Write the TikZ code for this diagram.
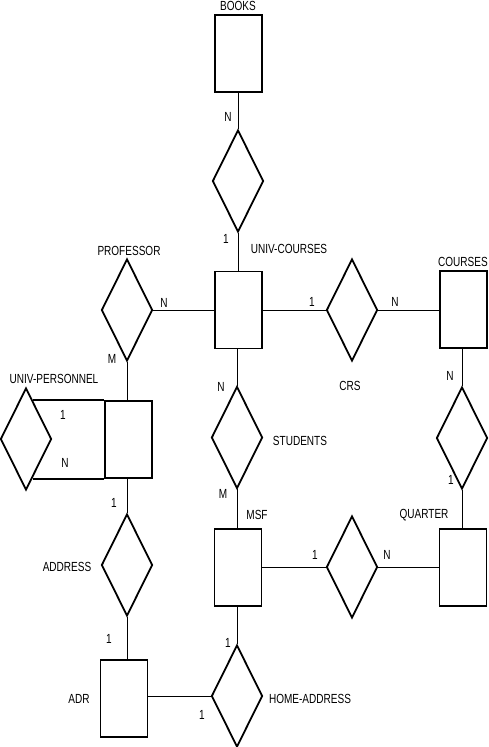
\documentclass[tikz,border=0pt]{standalone}
\usepackage{fontspec}
\setmainfont[FakeStretch=0.76]{Liberation Sans}
\usetikzlibrary{shapes.geometric,calc}
\begin{document}
\begin{tikzpicture}[x=1pt,y=-1pt,
  ent/.style={draw,line width=1.8pt,rectangle,minimum width=47pt,minimum height=77pt,inner sep=0pt},
  rel/.style={draw,line width=1.8pt,diamond,minimum width=51pt,minimum height=102pt,inner sep=0pt},
  conn/.style={line width=0.9pt},
  lbl/.style={font=\fontsize{13.2pt}{15pt}\selectfont,inner sep=0pt}]
\useasboundingbox (0,0) rectangle (489,747);
% entities
\node[ent] (books) at (238.5,53.5) {};
\node[ent] (univ) at (238.5,310) {};
\node[ent] (courses) at (463.5,309.5) {};
\node[ent] (quarter) at (463,567.5) {};
\node[ent] (msf) at (238,567.5) {};
\node[ent] (up) at (128.5,439.5) {};
\node[ent] (adr) at (124,698.5) {};
% relationships
\node[rel] (dbooks) at (238,181) {};
\node[rel] (crs) at (352,310) {};
\node[rel] (dcq) at (462,438) {};
\node[rel] (dmq) at (352,567) {};
\node[rel] (students) at (237,437.5) {};
\node[rel] (prof) at (127,310) {};
\node[rel] (dup) at (26,439) {};
\node[rel] (address) at (127,565) {};
\node[rel] (home) at (237,696) {};
% connectors
\draw[conn] (books.south -| dbooks.north) -- (dbooks.north);
\draw[conn] (dbooks.south) -- (dbooks.south |- univ.north);
\draw[conn] (univ.east |- crs.west) -- (crs.west);
\draw[conn] (crs.east) -- (crs.east -| courses.west);
\draw[conn] (dcq.north |- courses.south) -- (dcq.north);
\draw[conn] (dcq.south) -- (dcq.south |- quarter.north);
\draw[conn] (msf.east |- dmq.west) -- (dmq.west);
\draw[conn] (dmq.east) -- (dmq.east -| quarter.west);
\draw[conn] (students.north |- univ.south) -- (students.north);
\draw[conn] (students.south) -- (students.south |- msf.north);
\draw[conn] (prof.east) -- (prof.east -| univ.west);
\draw[conn] (prof.south) -- (prof.south |- up.north);
\draw[conn] (address.north |- up.south) -- (address.north);
\draw[conn] (address.south) -- (address.south |- adr.north);
\draw[conn] (home.north |- msf.south) -- (home.north);
\draw[conn] (adr.east |- home.west) -- (home.west);
\coordinate (upA) at ($(dup.north)!0.27!(dup.east)$);
\coordinate (upB) at ($(dup.south)!0.25!(dup.east)$);
\draw[line width=1.8pt] (upA |- up.north west) -- (up.north west);
\draw[line width=1.8pt] (upB |- up.south west) -- (up.south west);
% labels
\node[lbl] (lbooks) at (238,6) {BOOKS};
\node[lbl] (c1) at (228,117) {N};
\node[lbl] (c2) at (226,239) {1};
\node[lbl] (luniv) at (289,249) {UNIV-COURSES};
\node[lbl] (c3) at (312,302) {1};
\node[lbl] (c4) at (395,302) {N};
\node[lbl] (lcourses) at (463,262) {COURSES};
\node[lbl] (lcrs) at (350,386) {CRS};
\node[lbl] (c5) at (450,376) {N};
\node[lbl] (c6) at (451,480) {1};
\node[lbl] (lquarter) at (424,515) {QUARTER};
\node[lbl] (c7) at (315,555) {1};
\node[lbl] (c8) at (387,555) {N};
\node[lbl] (lmsf) at (257,515) {MSF};
\node[lbl] (c9) at (223,494) {M};
\node[lbl] (lstudents) at (300,441) {STUDENTS};
\node[lbl] (c10) at (221,387) {N};
\node[lbl] (lprof) at (129,251) {PROFESSOR};
\node[lbl] (c11) at (164,303) {N};
\node[lbl] (c12) at (112,359) {M};
\node[lbl] (lup) at (54,379) {UNIV-PERSONNEL};
\node[lbl] (c13) at (63,415) {1};
\node[lbl] (c14) at (65,463) {N};
\node[lbl] (c15) at (114,503) {1};
\node[lbl] (laddress) at (67,567) {ADDRESS};
\node[lbl] (c16) at (109,639) {1};
\node[lbl] (ladr) at (79,699) {ADR};
\node[lbl] (c17) at (202,715) {1};
\node[lbl] (c18) at (228,643) {1};
\node[lbl] (lhome) at (310,699) {HOME-ADDRESS};
\end{tikzpicture}
\end{document}
